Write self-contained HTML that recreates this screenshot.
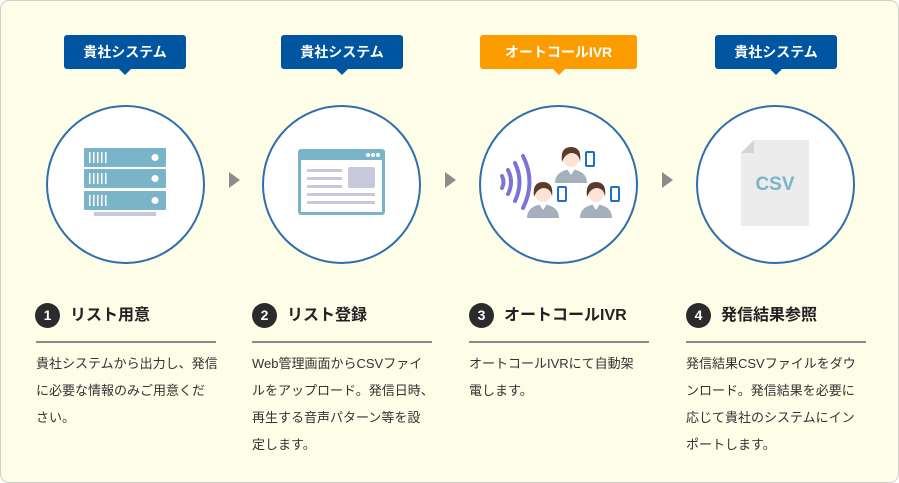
<!DOCTYPE html>
<html><head><meta charset="utf-8"><style>
*{margin:0;padding:0;box-sizing:border-box}
body{width:899px;height:483px;background:#fff;font-family:"Liberation Sans","Noto Sans CJK JP",sans-serif;position:relative;overflow:hidden}
.card{position:absolute;left:0;top:0;width:899px;height:483px;background:#fefde8;border:1px solid #d0d0c8;border-radius:9px}
.tag{position:absolute;top:35px;height:34px;color:#fff;font-size:14px;font-weight:bold;text-align:center;line-height:34px;border-radius:3px}
.tag:after{content:"";position:absolute;left:50%;bottom:-6px;margin-left:-6px;border-left:6px solid transparent;border-right:6px solid transparent;border-top:6px solid currentColor}
.blue{background:#0055a0}.blue:after{border-top-color:#0055a0}
.org{background:#fb9c00}.org:after{border-top-color:#fb9c00}
.circ{position:absolute;top:105px;width:159px;height:159px;border:2px solid #2f6fac;border-radius:50%;background:#fff}
.arr{position:absolute;top:172px;width:0;height:0;border-top:8px solid transparent;border-bottom:8px solid transparent;border-left:11px solid #8c8c8c}
.num{position:absolute;top:303px;width:25px;height:25px;border-radius:50%;background:#2b2b2b;color:#fff;font-size:14px;font-weight:bold;text-align:center;line-height:25px}
.ttl{position:absolute;top:303px;font-size:16px;font-weight:bold;color:#222;line-height:25px}
.hr{position:absolute;top:341px;width:180px;height:2px;background:#8a8a8a}
.txt{position:absolute;top:350px;width:190px;font-size:13px;color:#333;line-height:27px;white-space:nowrap}
svg{position:absolute}
</style></head><body>
<div class="card"></div>

<div class="tag blue" style="left:64px;width:122px">貴社システム</div>
<div class="tag blue" style="left:281px;width:122px">貴社システム</div>
<div class="tag org" style="left:480px;width:157px">オートコールIVR</div>
<div class="tag blue" style="left:715px;width:122px">貴社システム</div>

<div class="circ" style="left:46px"></div>
<div class="circ" style="left:262px"></div>
<div class="circ" style="left:479px"></div>
<div class="circ" style="left:696px"></div>

<div class="arr" style="left:229px"></div>
<div class="arr" style="left:445px"></div>
<div class="arr" style="left:662px"></div>

<!-- server -->
<svg style="left:84px;top:148px" width="84" height="68" viewBox="0 0 84 68">
<g fill="#7ab4c8"><rect x="0" y="0" width="82" height="19" rx="1"/><rect x="0" y="21" width="82" height="19" rx="1"/><rect x="0" y="43" width="82" height="19" rx="1"/></g>
<g fill="#fff"><circle cx="71" cy="9.5" r="3.5"/><circle cx="71" cy="30.5" r="3.5"/><circle cx="71" cy="52.5" r="3.5"/>
<g><rect x="5" y="4" width="1.5" height="11"/><rect x="9" y="4" width="1.5" height="11"/><rect x="13" y="4" width="1.5" height="11"/><rect x="17" y="4" width="1.5" height="11"/><rect x="21" y="4" width="1.5" height="11"/></g>
<g transform="translate(0,21)"><rect x="5" y="4" width="1.5" height="11"/><rect x="9" y="4" width="1.5" height="11"/><rect x="13" y="4" width="1.5" height="11"/><rect x="17" y="4" width="1.5" height="11"/><rect x="21" y="4" width="1.5" height="11"/></g>
<g transform="translate(0,43)"><rect x="5" y="4" width="1.5" height="11"/><rect x="9" y="4" width="1.5" height="11"/><rect x="13" y="4" width="1.5" height="11"/><rect x="17" y="4" width="1.5" height="11"/><rect x="21" y="4" width="1.5" height="11"/></g></g>
<rect x="10" y="64" width="62" height="4" fill="#c8c8dc"/>
</svg>

<!-- browser -->
<svg style="left:298px;top:149px" width="88" height="67" viewBox="0 0 88 67">
<rect x="0" y="0" width="87" height="66" rx="3" fill="#7ab4c8"/>
<rect x="3" y="11" width="81" height="52" fill="#fff"/>
<g fill="#fff"><circle cx="70" cy="6" r="2"/><circle cx="75" cy="6" r="2"/><circle cx="80" cy="6" r="2"/></g>
<g fill="#c8c8dc"><rect x="9" y="20" width="35" height="3"/><rect x="9" y="28" width="35" height="3"/><rect x="9" y="36" width="35" height="3"/><rect x="9" y="44" width="68" height="3"/><rect x="9" y="52" width="68" height="3"/><rect x="50" y="18" width="27" height="21" rx="2"/></g>
</svg>

<!-- IVR -->
<svg style="left:495px;top:140px" width="130" height="90" viewBox="0 0 130 90">
<g fill="none" stroke="#7d72d8" stroke-width="4" stroke-linecap="round">
<path d="M7 36 Q10 42 7 48"/><path d="M13 30 Q19 42 13 54"/><path d="M20 23 Q29 42 20 61"/><path d="M28 16 Q41 42 28 68"/></g>
<defs><g id="p">
<path d="M-16 26 Q-16 14 0 12 Q16 14 16 26 Z" fill="#a4b0bc"/>
<path d="M-4 12 L0 18 L4 12 Z" fill="#fff"/>
<ellipse cx="0" cy="1" rx="8" ry="9" fill="#fde2d6"/>
<path d="M-9 5 Q-11 -10 0 -10 Q11 -10 9 5 Q8 -4 0 -4 Q-6 -3 -9 5 Z" fill="#5a3a2a"/>
<rect x="15" y="-5" width="8" height="14" rx="1" fill="#fff" stroke="#1e6fc8" stroke-width="2"/>
</g></defs>
<use href="#p" transform="translate(76,17)"/>
<use href="#p" transform="translate(48,52)"/>
<use href="#p" transform="translate(101,52)"/>
</svg>

<!-- CSV file -->
<svg style="left:740px;top:140px" width="72" height="88" viewBox="0 0 72 88">
<path d="M14 0 H69 V86 H1 V13 Z" fill="#ececec"/>
<path d="M1 13 L14 0 V13 Z" fill="#d4d4d4"/>
<text x="35" y="50" text-anchor="middle" font-family="Liberation Sans,sans-serif" font-size="19" font-weight="bold" fill="#7ab4c8">CSV</text>
</svg>

<div class="num" style="left:35px">1</div><div class="ttl" style="left:70px">リスト用意</div>
<div class="num" style="left:252px">2</div><div class="ttl" style="left:287px">リスト登録</div>
<div class="num" style="left:469px">3</div><div class="ttl" style="left:504px">オートコールIVR</div>
<div class="num" style="left:686px">4</div><div class="ttl" style="left:721px">発信結果参照</div>

<div class="hr" style="left:36px"></div>
<div class="hr" style="left:252px"></div>
<div class="hr" style="left:469px"></div>
<div class="hr" style="left:686px"></div>

<div class="txt" style="left:36px">貴社システムから出力し、発信<br>に必要な情報のみご用意くだ<br>さい。</div>
<div class="txt" style="left:252px">Web管理画面からCSVファイ<br>ルをアップロード。発信日時、<br>再生する音声パターン等を設<br>定します。</div>
<div class="txt" style="left:469px">オートコールIVRにて自動架<br>電します。</div>
<div class="txt" style="left:686px">発信結果CSVファイルをダウ<br>ンロード。発信結果を必要に<br>応じて貴社のシステムにイン<br>ポートします。</div>
</body></html>
